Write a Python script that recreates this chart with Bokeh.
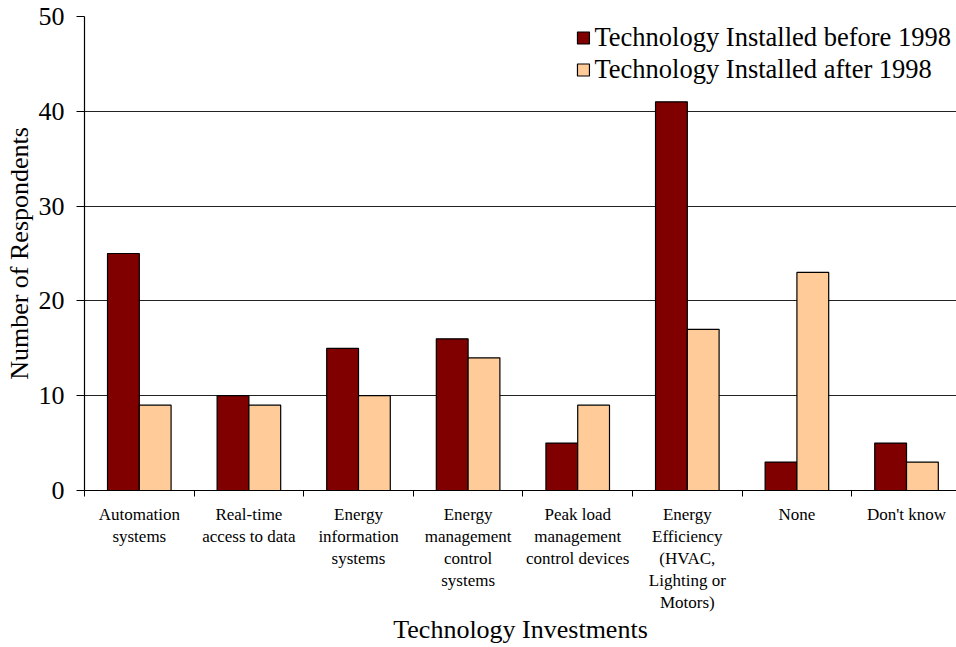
from bokeh.plotting import figure
from bokeh.models import Range1d, FixedTicker, Legend, LegendItem
from bokeh.embed import file_html
from bokeh.resources import INLINE

categories = [
    "Automation\nsystems",
    "Real-time\naccess to data",
    "Energy\ninformation\nsystems",
    "Energy\nmanagement\ncontrol\nsystems",
    "Peak load\nmanagement\ncontrol devices",
    "Energy\nEfficiency\n(HVAC,\nLighting or\nMotors)",
    "None",
    "Don't know",
]
before_1998 = [25, 10, 15, 16, 5, 41, 3, 5]
after_1998 = [9, 9, 10, 14, 9, 17, 23, 3]
y_ticks = [0, 10, 20, 30, 40, 50]

n = len(categories)
centers = [i + 0.5 for i in range(n)]
bw = 0.29

FONT = "Liberation Serif"

p = figure(width=956, height=647, output_backend="svg", toolbar_location=None,
           x_range=Range1d(0, 7.956), y_range=Range1d(0, 50),
           min_border_left=84, min_border_right=0, min_border_top=16, min_border_bottom=0)
p.outline_line_color = None
p.xgrid.visible = False
p.ygrid.ticker = FixedTicker(ticks=y_ticks)
p.ygrid.grid_line_color = "#222222"
p.ygrid.grid_line_width = 1

r1 = p.vbar(x=[c - bw / 2 for c in centers], top=before_1998, width=bw, bottom=0,
            fill_color="#800000", line_color="black", line_width=1.2)
r2 = p.vbar(x=[c + bw / 2 for c in centers], top=after_1998, width=bw, bottom=0,
            fill_color="#FFCC99", line_color="black", line_width=1.2)

xa = p.xaxis[0]
xa.ticker = FixedTicker(ticks=centers, minor_ticks=list(range(n + 1)))
xa.major_label_overrides = {c: lab for c, lab in zip(centers, categories)}
xa.major_tick_out = 0
xa.major_tick_in = 0
xa.minor_tick_out = 6
xa.minor_tick_in = 0
xa.minor_tick_line_color = "black"
xa.axis_line_color = "black"
xa.axis_line_width = 1.2
xa.major_label_text_font = "'Liberation Serif'"
xa.major_label_text_font_size = "17px"
xa.major_label_text_color = "black"
xa.major_label_text_line_height = 1.17
xa.major_label_standoff = 8
xa.axis_label = "Technology Investments"
xa.axis_label_text_font = FONT
xa.axis_label_text_font_size = "26px"
xa.axis_label_text_font_style = "normal"
xa.axis_label_text_color = "black"
xa.axis_label_standoff = 0

ya = p.yaxis[0]
ya.ticker = FixedTicker(ticks=y_ticks)
ya.minor_tick_line_color = None
ya.major_tick_out = 8
ya.major_tick_in = 0
ya.major_tick_line_color = "black"
ya.axis_line_color = "black"
ya.axis_line_width = 1.2
ya.major_label_text_font = FONT
ya.major_label_text_font_size = "26px"
ya.major_label_text_color = "black"
ya.major_label_standoff = 12
ya.axis_label = "Number of Respondents"
ya.axis_label_text_font = FONT
ya.axis_label_text_font_size = "26px"
ya.axis_label_text_font_style = "normal"
ya.axis_label_text_color = "black"
ya.axis_label_standoff = 2

legend = Legend(items=[
    LegendItem(label="Technology Installed before 1998", renderers=[r1]),
    LegendItem(label="Technology Installed after 1998", renderers=[r2]),
], location="top_right")
legend.label_text_font = FONT
legend.label_text_font_size = "26.5px"
legend.label_text_color = "black"
legend.glyph_width = 15
legend.glyph_height = 15
legend.label_height = 32
legend.spacing = 0
legend.label_standoff = 4
legend.padding = 6
legend.margin = 5
legend.border_line_color = None
legend.background_fill_alpha = 0
p.add_layout(legend)

open("out.html", "w").write(file_html(p, INLINE))
